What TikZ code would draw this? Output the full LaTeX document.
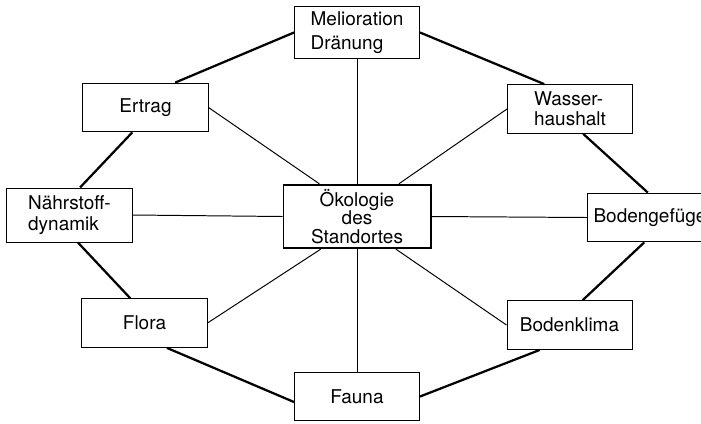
\documentclass[tikz,border=0pt]{standalone}
\usepackage{fontspec}
\setmainfont{TeX Gyre Heros}

\begin{document}
\begin{tikzpicture} [x=0.025cm,y=-0.025cm]
\tikzstyle{box}=[draw,rectangle,line width=0.7pt,minimum width=3.125cm,minimum height=1.22cm,align=left,font=\fontsize{13.5}{14.5}\selectfont]
\tikzstyle{ring}=[line width=1.6pt]
\tikzstyle{spoke}=[line width=0.7pt]
\useasboundingbox (0,0) rectangle (701,423);
\node at(357,216.5) (ctr) [box,line width=1.4pt,minimum width=3.675cm,minimum height=1.575cm,align=center,font=\fontsize{13.5}{13}\selectfont]{Ökologie\\des\\Standortes};
\node at(357,32.5) (mel) [box]{Melioration\\[3pt]Dränung};
\node at(145.5,107.5) (ert) [box]{Ertrag};
\node at(570,109) (was) [box]{Wasser-\\haushalt};
\node at(69.5,215) (nae) [box,minimum height=1.35cm]{Nährstoff-\\dynamik};
\node at(650,217.5) (bog) [box]{Bodengefüge};
\node at(144.5,323) (flo) [box]{Flora};
\node at(569.5,325) (bok) [box]{Bodenklima};
\node at(357,396.5) (fau) [box]{Fauna};
% outer ring
\draw[ring] (mel.west) -- (ert.40);
\draw[ring] (ert.242) -- (nae.69);
\draw[ring] (nae.287) -- (flo.120);
\draw[ring] (flo.312) -- (fau.185);
\draw[ring] (fau.east) -- (bok.220);
\draw[ring] (bok.62) -- (bog.257);
\draw[ring] (bog.95) -- (was.298);
\draw[ring] (was.136) -- (mel.east);
% spokes
\draw (mel.south) edge [spoke] (ctr.north);
\draw (ert.east) edge [spoke] (ctr.139);
\draw (was.west) edge [spoke] (ctr.38);
\draw (nae.east) edge [spoke] (ctr.west);
\draw (bog.west) edge [spoke] (ctr.east);
\draw (flo.east) edge [spoke] (ctr.222);
\draw (bok.west) edge [spoke] (ctr.320);
\draw (fau.north) edge [spoke] (ctr.south);
\end{tikzpicture}
\end{document}
